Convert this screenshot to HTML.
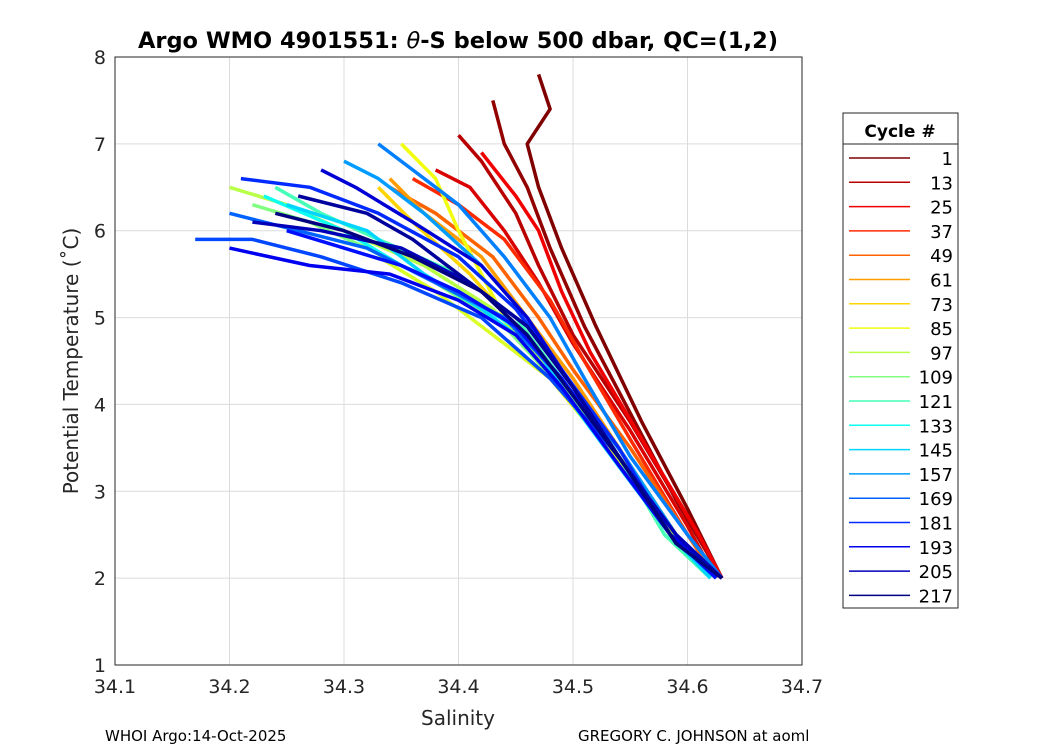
<!DOCTYPE html>
<html><head><meta charset="utf-8"><style>
body{margin:0;background:#fff;font-family:"Liberation Sans","DejaVu Sans",sans-serif}
svg text{font-family:"DejaVu Sans","Liberation Sans",sans-serif}
</style></head><body>
<svg id="c" width="1050" height="750" xmlns="http://www.w3.org/2000/svg">
<rect width="1050" height="750" fill="#fff"/>
<g id="grid"></g>
<g id="lines"></g>
<rect x="115" y="57" width="687" height="608" fill="none" stroke="#262626" stroke-width="1"/>
<g id="ticks"></g>
<text x="458" y="48" text-anchor="middle" font-size="22.5" font-weight="bold" fill="#000">Argo WMO 4901551: <tspan font-style="italic" font-weight="normal">θ</tspan>-S below 500 dbar,  QC=(1,2)</text>
<text x="458" y="725" text-anchor="middle" font-size="20" fill="#262626">Salinity</text>
<text transform="translate(78,361) rotate(-90)" text-anchor="middle" font-size="20" fill="#262626">Potential Temperature (˚C)</text>
<text x="105" y="741" font-size="15" fill="#000">WHOI Argo:14-Oct-2025</text>
<text x="578" y="741" font-size="15" fill="#000">GREGORY C. JOHNSON at aoml</text>
<g id="legend">
<rect x="843" y="113" width="115" height="495" fill="#fff" stroke="#262626"/>
<line x1="843" y1="144" x2="958" y2="144" stroke="#262626"/>
<text x="900" y="137" text-anchor="middle" font-size="17" font-weight="bold">Cycle #</text>
</g>
</svg>
<script>
const xTicks=[34.1,34.2,34.3,34.4,34.5,34.6,34.7];
const yTicks=[1,2,3,4,5,6,7,8];
const legendCycles=[1,13,25,37,49,61,73,85,97,109,121,133,145,157,169,181,193,205,217];
const cycles=[1,5,13,20,25,37,49,61,73,85,90,97,109,121,133,145,157,163,169,175,181,187,193,199,205,211,217];
const sal=[
[34.47,34.48,34.46,34.47,34.49,34.52,34.56,34.60,34.63],
[34.43,34.44,34.46,34.48,34.51,34.55,34.59,34.63],
[34.40,34.42,34.45,34.47,34.50,34.55,34.60,34.63],
[34.38,34.41,34.44,34.47,34.50,34.55,34.60,34.625],
[34.42,34.45,34.47,34.49,34.515,34.56,34.61,34.63],
[34.36,34.40,34.44,34.48,34.51,34.55,34.60,34.63],
[34.34,34.38,34.43,34.47,34.50,34.55,34.60,34.625],
[34.34,34.37,34.42,34.46,34.50,34.54,34.59,34.625],
[34.33,34.36,34.41,34.45,34.49,34.54,34.59,34.62],
[34.35,34.38,34.40,34.44,34.48,34.53,34.58,34.62],
[34.33,34.38,34.43,34.47,34.50,34.54,34.59,34.62],
[34.20,34.25,34.30,34.37,34.43,34.48,34.54,34.58,34.62],
[34.22,34.27,34.32,34.38,34.44,34.49,34.54,34.58,34.62],
[34.24,34.28,34.33,34.40,34.45,34.49,34.54,34.58,34.62],
[34.23,34.30,34.35,34.40,34.46,34.50,34.545,34.585,34.62],
[34.25,34.32,34.37,34.42,34.47,34.50,34.545,34.585,34.62],
[34.30,34.33,34.37,34.42,34.46,34.50,34.545,34.59,34.625],
[34.33,34.36,34.40,34.44,34.48,34.51,34.55,34.60,34.63],
[34.20,34.26,34.32,34.38,34.44,34.49,34.54,34.585,34.625],
[34.17,34.22,34.28,34.35,34.42,34.48,34.54,34.585,34.63],
[34.21,34.27,34.33,34.40,34.45,34.49,34.54,34.585,34.625],
[34.25,34.30,34.35,34.40,34.45,34.49,34.54,34.585,34.625],
[34.20,34.27,34.34,34.40,34.45,34.49,34.54,34.585,34.63],
[34.28,34.31,34.36,34.42,34.46,34.50,34.545,34.59,34.63],
[34.22,34.28,34.35,34.41,34.46,34.50,34.545,34.59,34.63],
[34.26,34.32,34.36,34.41,34.46,34.50,34.545,34.59,34.63],
[34.24,34.30,34.36,34.42,34.46,34.50,34.545,34.59,34.63]];
const temp=[
[7.8,7.4,7.0,6.5,5.8,4.9,3.8,2.8,2.0],
[7.5,7.0,6.5,5.8,4.9,3.9,2.9,2.0],
[7.1,6.8,6.2,5.6,4.8,3.8,2.7,2.0],
[6.7,6.5,6.0,5.4,4.7,3.7,2.6,2.0],
[6.9,6.4,6.0,5.3,4.6,3.6,2.5,2.0],
[6.6,6.3,5.9,5.2,4.5,3.6,2.5,2.0],
[6.5,6.2,5.7,5.0,4.4,3.5,2.5,2.0],
[6.6,6.2,5.7,5.0,4.3,3.5,2.5,2.0],
[6.5,6.1,5.5,4.9,4.3,3.4,2.5,2.0],
[7.0,6.6,6.0,5.0,4.3,3.5,2.6,2.0],
[5.7,5.3,4.8,4.4,4.1,3.4,2.5,2.0],
[6.5,6.3,6.0,5.6,5.1,4.4,3.5,2.6,2.0],
[6.3,6.1,5.8,5.4,4.9,4.2,3.4,2.5,2.0],
[6.5,6.2,5.9,5.5,5.0,4.3,3.4,2.5,2.0],
[6.4,6.0,5.6,5.3,4.8,4.1,3.3,2.5,2.0],
[6.3,6.0,5.5,5.1,4.6,4.0,3.2,2.5,2.0],
[6.8,6.6,6.2,5.6,5.0,4.2,3.4,2.5,2.0],
[7.0,6.7,6.3,5.7,5.0,4.3,3.4,2.5,2.0],
[6.2,6.0,5.8,5.4,5.0,4.3,3.4,2.5,2.0],
[5.9,5.9,5.7,5.4,5.0,4.3,3.4,2.5,2.0],
[6.6,6.5,6.2,5.7,5.1,4.4,3.5,2.5,2.0],
[6.0,5.8,5.6,5.3,4.9,4.3,3.4,2.5,2.0],
[5.8,5.6,5.5,5.2,4.8,4.2,3.3,2.5,2.0],
[6.7,6.5,6.1,5.6,5.0,4.2,3.3,2.5,2.0],
[6.1,6.0,5.8,5.4,4.9,4.2,3.3,2.5,2.0],
[6.4,6.2,5.9,5.4,4.9,4.2,3.3,2.4,2.0],
[6.2,6.0,5.7,5.3,4.8,4.1,3.3,2.4,2.0]];
const NS="http://www.w3.org/2000/svg";
const X0=115,X1=802,Y0=665,Y1=57;
function xs(s){return X0+(s-34.1)/0.6*(X1-X0);}
function ys(t){return Y0-(t-1)/7*(Y0-Y1);}
function jet(c){
 const t=1-((c-1)/216);
 function cl(a){return Math.max(0,Math.min(1,a));}
 const r=cl(1.5-Math.abs(4*t-3)),g=cl(1.5-Math.abs(4*t-2)),b=cl(1.5-Math.abs(4*t-1));
 return `rgb(${Math.round(r*255)},${Math.round(g*255)},${Math.round(b*255)})`;}
function mk(tag,attrs,parent){const e=document.createElementNS(NS,tag);for(const k in attrs)e.setAttribute(k,attrs[k]);parent.appendChild(e);return e;}
const grid=document.getElementById('grid'),ticks=document.getElementById('ticks'),lines=document.getElementById('lines'),leg=document.getElementById('legend');
xTicks.forEach(v=>{const x=xs(v);
 const g=mk('line',{x1:x,x2:x,y1:Y1,y2:Y0,stroke:'#dcdcdc','stroke-width':1},grid);
 
 
 const t=mk('text',{x:x,y:Y0+28,'text-anchor':'middle','font-size':19,fill:'#262626'},ticks);
 
 
 t.textContent=v.toFixed(1);});
yTicks.forEach(v=>{const y=ys(v);
 const g=mk('line',{x1:X0,x2:X1,y1:y,y2:y,stroke:'#dcdcdc','stroke-width':1},grid);
 
 
 const t=mk('text',{x:X0-9,y:y+7,'text-anchor':'end','font-size':19,fill:'#262626'},ticks);
 
 
 t.textContent=v;});
cycles.forEach((c,i)=>{const pts=sal[i].map((s,j)=>xs(s).toFixed(1)+','+ys(temp[i][j]).toFixed(1)).join(' ');
 const p=mk('polyline',{points:pts,fill:'none',stroke:jet(c),'stroke-width':3.5,'stroke-linejoin':'round'},lines);
 
 });
legendCycles.forEach((c,i)=>{const y=158+i*24.3;
 const l=mk('line',{x1:849,x2:910,y1:y,y2:y,stroke:jet(c),'stroke-width':1.5},leg);
 
 
 const t=mk('text',{x:953,y:y+7,'text-anchor':'end','font-size':18,fill:'#000'},leg);
 
 
 t.textContent=c;});
</script>
</body></html>
